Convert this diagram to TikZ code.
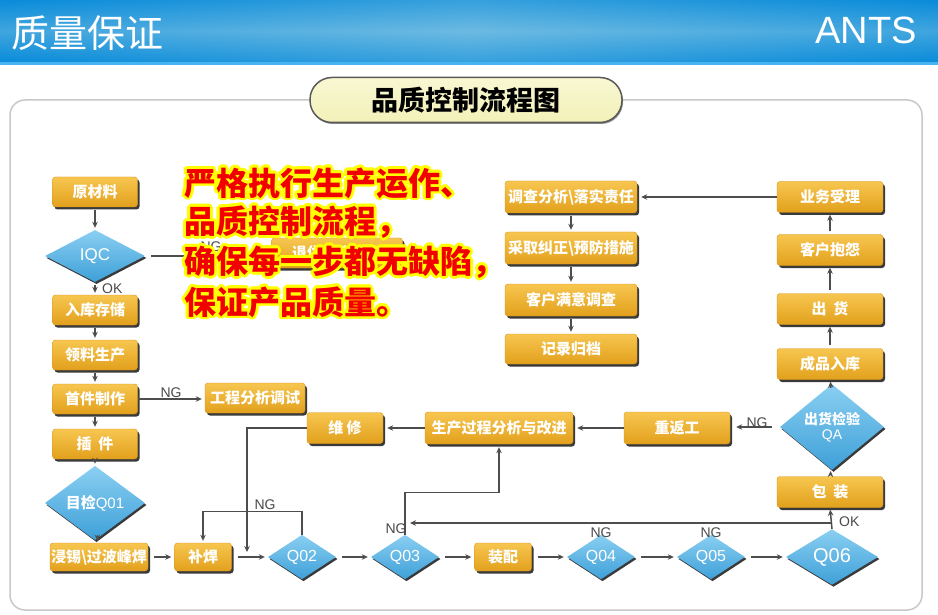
\documentclass[tikz,border=0pt]{standalone}
\usepackage{fontspec}
\setmainfont{Liberation Sans}
\newfontfamily\cjk{Noto Sans CJK SC}
\usetikzlibrary{shapes.geometric,arrows.meta,shadows,calc}
\definecolor{hdA}{HTML}{0A8CDA}
\definecolor{hdB}{HTML}{6CBAE2}
\definecolor{hdL}{HTML}{45B4F0}
\definecolor{frameC}{HTML}{C8C8C8}
\definecolor{pillF}{HTML}{F3F1B8}
\definecolor{pillT}{HTML}{F8F7D2}
\definecolor{pillD}{HTML}{5A5A5A}
\definecolor{obT}{HTML}{F7C650}
\definecolor{obB}{HTML}{E2A01C}
\definecolor{obD}{HTML}{D8961A}
\definecolor{shd}{HTML}{3A3A3A}
\definecolor{dmT}{HTML}{8ACFF2}
\definecolor{dmB}{HTML}{3EA0D8}
\definecolor{arrC}{HTML}{4D4D4D}
\definecolor{lblC}{HTML}{4A4A4A}
\definecolor{glowY}{HTML}{FFFF00}
\definecolor{redT}{HTML}{F20000}
\tikzset{
  ob/.style={rectangle, rounded corners=3pt, top color=obT, bottom color=obB, draw=obD, line width=0.4pt,
    text=white, font=\cjk\bfseries\fontsize{15}{15}\selectfont, minimum height=30pt, inner sep=0pt,
    drop shadow={shadow xshift=2pt, shadow yshift=-2.5pt, fill=shd, opacity=1}},
  dm/.style={diamond, top color=dmT, bottom color=dmB, draw=none, inner sep=0pt,
    text=white, font=\fontsize{16}{16}\selectfont, minimum width=68pt, minimum height=40pt,
    drop shadow={shadow xshift=1.5pt, shadow yshift=-2pt, fill=shd, opacity=1}},
  arr/.style={draw=arrC, line width=1.5pt, -{Stealth[length=6pt,width=5.5pt]}},
  sh/.style={shorten <=6pt, shorten >=3pt},
  shv/.style={shorten <=3pt, shorten >=2pt},
  lbl/.style={text=lblC, font=\fontsize{14}{14}\selectfont, inner sep=0pt},
  redtxt/.style={anchor=west, inner sep=0pt, font=\cjk\bfseries\fontsize{32}{32}\selectfont}
}
\begin{document}
\begin{tikzpicture}[x=1pt,y=-1pt]
\useasboundingbox (0,0) rectangle (938,615);
\fill[white] (0,0) rectangle (938,615);
% header
\shade[top color=hdA, bottom color=hdA, middle color=hdB] (0,0) rectangle (938,62);
\shade[left color=hdA, right color=hdA, middle color=hdB, opacity=0.45] (0,0) rectangle (938,62);
\fill[hdL] (0,62) rectangle (938,65);
\node[anchor=west, text=white, inner sep=0pt, font=\cjk\fontsize{38}{38}\selectfont] (ttl) at (11,33) {质量保证};
\node[anchor=east, text=white, inner sep=0pt, font=\fontsize{38}{38}\selectfont] (ants) at (917,30) {ANTS};
% frame
\draw[frameC, line width=1.5pt, rounded corners=15pt] (10,100) rectangle (922,610);
\node[draw=pillD, line width=1.5pt, top color=pillT, bottom color=pillF, rounded corners=22pt,
  minimum width=312pt, minimum height=45pt, inner sep=0pt, font=\cjk\bfseries\fontsize{27}{27}\selectfont,
  drop shadow={shadow xshift=1pt, shadow yshift=-1.5pt, fill=black!45, opacity=1}] (pill) at (466,100) {品质控制流程图};

% left column
\node[ob, minimum width=85pt] (ycl) at (95,192) {原材料};
\node[dm, minimum width=100pt, minimum height=52pt, font=\fontsize{17}{17}\selectfont] (iqc) at (95,256) {IQC};
\node[ob, minimum width=85pt] (rk) at (95,310) {入库存储};
\node[ob, minimum width=85pt] (ll) at (95,355) {领料生产};
\node[ob, minimum width=85pt] (sj) at (95,399) {首件制作};
\node[ob, minimum width=85pt] (cj) at (95,444) {插\ \ 件};
\node[dm, minimum width=100pt, minimum height=52pt, font=\fontsize{15}{15}\selectfont] (q1) at (95,503) {{\cjk\bfseries 目检}Q01};
\node[ob, minimum width=98pt, minimum height=28pt] (jx) at (99,557) {浸锡\textbackslash 过波峰焊};
% bottom row
\node[ob, minimum width=57pt, minimum height=28pt] (bh) at (203,557) {补焊};
\node[dm] (q2) at (302,557) {Q02};
\node[dm] (q3) at (405,557) {Q03};
\node[ob, minimum width=57pt, minimum height=28pt] (zp) at (503,557) {装配};
\node[dm] (q4) at (601,557) {Q04};
\node[dm] (q5) at (711,557) {Q05};
\node[dm, minimum width=92pt, minimum height=52pt, font=\fontsize{20}{20}\selectfont] (q6) at (832,557) {Q06};
% right column
\node[ob, minimum width=106pt, minimum height=31pt] (bz) at (830,492) {包\ \ 装};
\node[dm, minimum width=104pt, minimum height=58pt, align=center, font=\fontsize{14}{15}\selectfont] (qa) at (832,427) {{\cjk\bfseries 出货检验}\\QA};
\node[ob, minimum width=106pt, minimum height=31pt] (cp) at (830,364) {成品入库};
\node[ob, minimum width=106pt, minimum height=31pt] (ch) at (830,309) {出\ \ 货};
\node[ob, minimum width=106pt, minimum height=31pt] (kh) at (830,250) {客户抱怨};
\node[ob, minimum width=106pt, minimum height=31pt] (yw) at (830,197) {业务受理};
% middle row
\node[ob, minimum width=106pt, minimum height=32pt] (fg) at (677,428) {重返工};
\node[ob, minimum width=148pt, minimum height=32pt] (sc) at (499,428) {生产过程分析与改进};
\node[ob, minimum width=76pt, minimum height=31pt] (wx) at (345,428) {维\ 修};
\node[ob, minimum width=100pt, minimum height=30pt] (gc) at (255,398) {工程分析调试};
% top middle column
\node[ob, minimum width=132pt, minimum height=32pt] (dc) at (571,197) {调查分析\textbackslash 落实责任};
\node[ob, minimum width=132pt, minimum height=32pt] (cq) at (571,248) {采取纠正\textbackslash 预防措施};
\node[ob, minimum width=132pt, minimum height=32pt] (my) at (571,300) {客户满意调查};
\node[ob, minimum width=132pt, minimum height=30pt] (jl) at (571,349) {记录归档};
% hidden box
\node[ob, minimum width=131pt, minimum height=30pt] (tg) at (337,253) {退供应商处理};

% connectors
\foreach \a/\b in {ycl/iqc, iqc/rk, rk/ll, ll/sj, sj/cj, cj/q1, q1/jx,
                   bz/qa, qa/cp, cp/ch, ch/kh, kh/yw, dc/cq, cq/my, my/jl}
  \draw[arr, shv] (\a) -- (\b);
\foreach \a/\b in {jx/bh, bh/q2, q2/q3, q3/zp, zp/q4, q4/q5, q5/q6}
  \draw[arr, sh] (\a) -- (\b);
\node[lbl, anchor=west] (okA) at (102,289) {OK};
\draw[arr, shorten <=6pt] (iqc.east) -- (iqc.east -| tg.west);
\node[lbl] (ngA) at (211,247) {NG};
\draw[arr, shorten >=3pt] (sj.east) -- (sj.east -| gc.west);
\node[lbl] (ngB) at (171,393) {NG};
\draw[arr, shorten >=2pt] (q2.north) -- ++(0,-23) -| (bh.north);
\node[lbl] (ngC) at (265,505) {NG};
\coordinate (wxe) at (247,552);
\draw[arr] (wx.west) -| (wxe);
\draw[arr, shorten >=3pt] (q3.north) -- ++(0,-42) -| (sc.south);
\coordinate (j6) at (832,523);
\coordinate (l3) at (410,523);
\draw[arr] (j6) -- (l3);
\node[lbl] (ngD) at (396,529) {NG};
\node[lbl] (ngE) at (601,533) {NG};
\node[lbl] (ngF) at (711,533) {NG};
\draw[arr, shorten >=2pt] (q6.north) -- (bz.south);
\node[lbl, anchor=west] (okB) at (839,522) {OK};
\draw[arr, shorten <=8pt, shorten >=6pt] (qa.west) -- (qa.west -| fg.east);
\node[lbl] (ngG) at (757,423) {NG};
\draw[arr, shorten >=4pt] (fg) -- (sc);
\draw[arr, shorten >=4pt] (sc) -- (wx);
\draw[arr, shorten >=4pt] (yw) -- (dc);

% red slogan
\foreach \t/\y [count=\i] in {严格执行生产运作、/183, 品质控制流程，/222, 确保每一步都无缺陷，/262, 保证产品质量。/302}{
  \foreach \a in {0,22.5,...,337.5}
    \node[redtxt, text=glowY] at ($(184,\y)+(\a:2.8pt)$) {\t};
  \node[redtxt, text=redT] (r\i) at (184,\y) {\t};
}
\end{tikzpicture}
\end{document}
